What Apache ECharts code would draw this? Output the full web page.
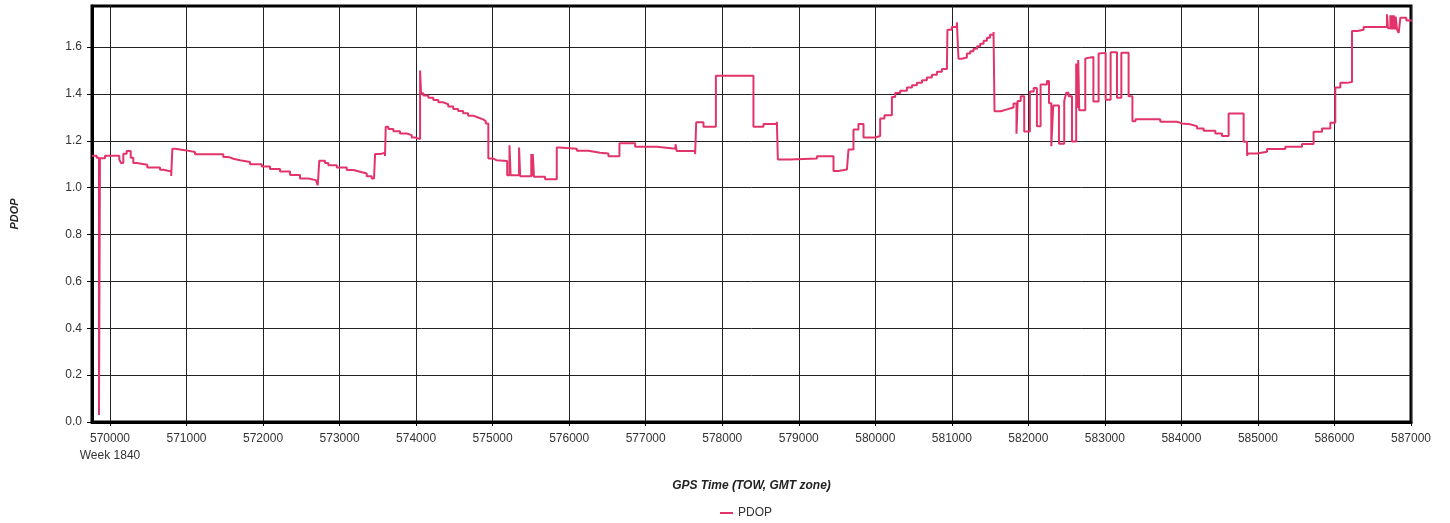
<!DOCTYPE html>
<html>
<head>
<meta charset="utf-8">
<script src="https://cdn.jsdelivr.net/npm/echarts@6/dist/echarts.min.js"></script>
<style>
  html, body { margin: 0; padding: 0; background: #fff; }
  #chart { width: 1450px; height: 523px; }
</style>
</head>
<body>
<div id="chart"></div>
<script>
// GPS time of week (s) where each PDOP value starts (held until next point)
var gpsTime = [
  569765, 569826, 569856, 569869, 569935, 570122, 570144, 570174, 570218, 570271,
  570305, 570349, 570488, 570654, 570700, 570800, 570815, 570850, 570980, 571111,
  571481, 571546, 571612, 571699, 571830, 571983, 572091, 572222, 572353, 572483,
  572592, 572690, 572715, 572735, 572810, 572853, 572963, 573094, 573180, 573268,
  573355, 573420, 573450, 573464, 573530, 573594, 573603, 573637, 573703, 573790,
  573878, 573943, 573986, 574052, 574065, 574095, 574160, 574225, 574290, 574355,
  574420, 574485, 574550, 574615, 574680, 574745, 574810, 574875, 574910, 574944,
  575010, 575050, 575190, 575220, 575235, 575345, 575360, 575505, 575515, 575525,
  575540, 575685, 575838, 575870, 576100, 576251, 576404, 576513, 576657, 576862,
  577146, 577390, 577405, 577646, 577660, 577755, 577917, 578408, 578539, 578714,
  578727, 578888, 579237, 579454, 579520, 579629, 579650, 579715, 579780, 579846,
  579999, 580064, 580120, 580217, 580260, 580325, 580413, 580480, 580543, 580610,
  580674, 580740, 580805, 580870, 580936, 580943, 581000, 581066, 581087, 581130,
  581197, 581240, 581284, 581330, 581371, 581415, 581459, 581500, 581545, 581558,
  581640, 581720, 581806, 581845, 581860, 581900, 581946, 582020, 582070, 582112,
  582160, 582243, 582270, 582300, 582325, 582400, 582469, 582495, 582525, 582570,
  582625, 582640, 582652, 582665, 582744, 582760, 582850, 582918, 582935, 583010,
  583075, 583158, 583215, 583310, 583360, 583400, 583724, 583942, 584007, 584116,
  584204, 584290, 584443, 584531, 584617, 584813, 584858, 584870, 584988, 585119,
  585358, 585576, 585727, 585837, 585946, 586011, 586077, 586164, 586229, 586300,
  586381, 586686, 586700, 586730, 586745, 586755, 586765, 586775, 586790, 586800,
  586817, 586839, 586861, 586939, 587040
];
var pdop = [
  1.136, 1.127, 0.03, 1.125, 1.136, 1.12, 1.105, 1.145, 1.156, 1.127,
  1.105, 1.098, 1.086, 1.076, 1.069, 1.05, 1.166, 1.16, 1.152, 1.142,
  1.131, 1.123, 1.117, 1.109, 1.10, 1.09, 1.08, 1.069, 1.054, 1.039,
  1.032, 1.025, 1.01, 1.115, 1.105, 1.095, 1.086, 1.075, 1.068, 1.06,
  1.049, 1.039, 1.031, 1.143, 1.149, 1.135, 1.26, 1.25, 1.241, 1.231,
  1.224, 1.214, 1.207, 1.50, 1.403, 1.393, 1.384, 1.374, 1.364, 1.356,
  1.346, 1.336, 1.327, 1.317, 1.307, 1.299, 1.291, 1.284, 1.274, 1.124,
  1.117, 1.114, 1.053, 1.181, 1.053, 1.171, 1.049, 1.143, 1.049, 1.143,
  1.046, 1.036, 1.171, 1.166, 1.157, 1.149, 1.146, 1.134, 1.189, 1.174,
  1.166, 1.185, 1.156, 1.143, 1.279, 1.26, 1.477, 1.26, 1.271, 1.281,
  1.12, 1.124, 1.134, 1.071, 1.077, 1.085, 1.163, 1.248, 1.271, 1.214,
  1.22, 1.295, 1.309, 1.387, 1.404, 1.413, 1.427, 1.437, 1.447, 1.458,
  1.47, 1.482, 1.494, 1.506, 1.518, 1.674, 1.685, 1.706, 1.55, 1.555,
  1.572, 1.582, 1.593, 1.603, 1.614, 1.627, 1.64, 1.652, 1.664, 1.326,
  1.334, 1.342, 1.359, 1.23, 1.37, 1.39, 1.24, 1.41, 1.425, 1.262,
  1.44, 1.455, 1.36, 1.177, 1.35, 1.187, 1.37, 1.405, 1.39, 1.197,
  1.53, 1.34, 1.545, 1.33, 1.551, 1.558, 1.367, 1.572, 1.575, 1.375,
  1.578, 1.383, 1.575, 1.39, 1.283, 1.292, 1.281, 1.274, 1.27, 1.262,
  1.252, 1.243, 1.231, 1.22, 1.316, 1.196, 1.136, 1.146, 1.153, 1.165,
  1.174, 1.186, 1.238, 1.252, 1.277, 1.427, 1.447, 1.451, 1.668, 1.674,
  1.685, 1.74, 1.68, 1.735, 1.675, 1.735, 1.675, 1.735, 1.675, 1.73,
  1.675, 1.66, 1.725, 1.713, 1.71
];
var xTicks = [570000, 571000, 572000, 573000, 574000, 575000, 576000, 577000, 578000,
  579000, 580000, 581000, 582000, 583000, 584000, 585000, 586000, 587000];
var yTicks = [0, 0.2, 0.4, 0.6, 0.8, 1.0, 1.2, 1.4, 1.6];
var weekLabel = 'Week 1840';

var seriesData = gpsTime.map(function (t, i) { return [t, pdop[i]]; });

var chart = echarts.init(document.getElementById('chart'));
var labelFont = { fontFamily: 'Liberation Sans', fontSize: 12, color: '#333' };
chart.setOption({
  animation: false,
  grid: {
    left: 92, right: 39, top: 6, bottom: 101,
    show: true, borderColor: '#000', borderWidth: 3
  },
  legend: {
    top: 507, left: 720, padding: 0,
    icon: 'rect', itemWidth: 13, itemHeight: 2, itemGap: 6,
    textStyle: { fontFamily: 'Liberation Sans', fontSize: 12, color: '#333' },
    data: ['PDOP']
  },
  xAxis: {
    type: 'value',
    min: 569765, max: 587000,
    name: 'GPS Time (TOW, GMT zone)',
    nameLocation: 'middle', nameGap: 58,
    nameTextStyle: { fontFamily: 'Liberation Sans', fontSize: 12, fontWeight: 'bold', fontStyle: 'italic', color: '#222' },
    axisLine: { show: true, lineStyle: { color: '#000', width: 3 } },
    axisTick: { show: true, length: 4, customValues: xTicks, lineStyle: { color: '#000' } },
    axisLabel: Object.assign({
      margin: 8, customValues: xTicks,
      formatter: function (v) { return v === xTicks[0] ? v + '\n' + weekLabel : String(v); },
      lineHeight: 17
    }, labelFont),
    splitLine: { show: true, lineStyle: { color: '#222', width: 1 } }
  },
  yAxis: {
    type: 'value',
    min: 0, max: 1.775,
    name: 'PDOP',
    nameLocation: 'middle', nameGap: 72,
    nameTextStyle: { fontFamily: 'Liberation Sans', fontSize: 11, fontWeight: 'bold', fontStyle: 'italic', color: '#222' },
    axisLine: { show: true, lineStyle: { color: '#000', width: 3 } },
    axisTick: { show: true, length: 5, customValues: yTicks, lineStyle: { color: '#000' } },
    axisLabel: Object.assign({
      margin: 10, customValues: yTicks,
      formatter: function (v) { return v.toFixed(1); }
    }, labelFont),
    splitLine: { show: true, lineStyle: { color: '#222', width: 1 } }
  },
  series: [{
    name: 'PDOP',
    type: 'line',
    step: 'end',
    showSymbol: false,
    symbol: 'none',
    color: '#e2346a',
    lineStyle: { width: 2, color: '#e2346a' },
    data: seriesData
  }]
});
</script>
</body>
</html>
